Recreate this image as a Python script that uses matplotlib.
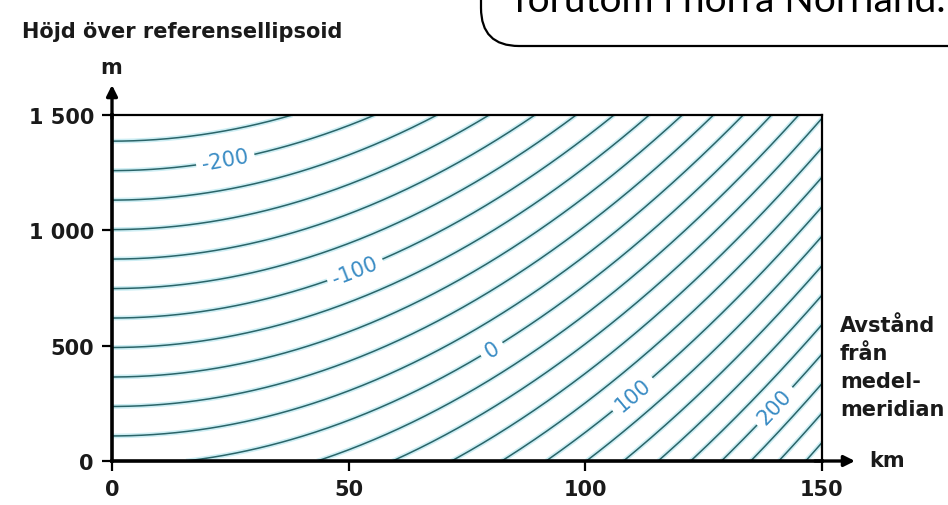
import matplotlib
matplotlib.use("Agg")
import matplotlib.pyplot as plt
import matplotlib.patheffects as pe
from matplotlib.patches import FancyBboxPatch
import numpy as np

plt.rcParams['font.family'] = ['DejaVu Sans']

# distance from central meridian (km) and height above the ellipsoid (m)
x_range = [0, 150]
h_range = [0, 1500]
x_ticks = [0, 50, 100, 150]
h_ticks = [0, 500, 1000, 1500]
h_ticklabels = ['0', '500', '1 000', '1 500']

# scale distortion in mm/km: x^2/(2R^2) - h/R + offset
earth_radius_km = 6390.
offset_ppm = -3.

levels = np.arange(-220, 281, 20)
label_levels = [-200, -100, 0, 100, 200]
label_pos = [(23.6, 1343), (50.6, 865), (79.5, 509), (109, 313), (139, 257)]

xs = np.linspace(x_range[0], x_range[1], 500)
hs = np.linspace(h_range[0], h_range[1], 500)
X, H = np.meshgrid(xs, hs)
dist = (X**2 / (2 * earth_radius_km**2) - (H / 1000.) / earth_radius_km) * 1e6 + offset_ppm

W, Hpx = 948, 506
fig = plt.figure(figsize=(W / 100, Hpx / 100), dpi=100)
ax = fig.add_axes([112 / W, (Hpx - 462) / Hpx, 710 / W, 346 / Hpx])

line_col = '#2a6468'
halo = [pe.Stroke(linewidth=3.4, foreground='#cdeef4'), pe.Normal()]
plain_levels = [lv for lv in levels if lv not in label_levels]
cs1 = ax.contour(X, H, dist, levels=plain_levels, colors=line_col, linewidths=1.1,
                 linestyles='solid', negative_linestyles='solid')
cs1.set(path_effects=halo)
cs2 = ax.contour(X, H, dist, levels=label_levels, colors=line_col, linewidths=1.1,
                 linestyles='solid', negative_linestyles='solid')
cs2.set(path_effects=halo)
ax.clabel(cs2, manual=label_pos, inline=True, inline_spacing=6,
          fmt={lv: str(lv) for lv in label_levels}, fontsize=15, colors='#3a8cc4')

ax.set_xlim(x_range)
ax.set_ylim(h_range)
for side in ['left', 'bottom']:
    ax.spines[side].set_linewidth(2.6)
for side in ['top', 'right']:
    ax.spines[side].set_linewidth(1.6)
ax.set_xticks(x_ticks)
ax.set_yticks(h_ticks)
ax.set_yticklabels(h_ticklabels)
ax.tick_params(axis='both', direction='out', length=7, width=1.6, labelsize=15, pad=6)
for lab in ax.get_xticklabels() + ax.get_yticklabels():
    lab.set_fontweight('bold')
    lab.set_color('#1a1a1a')

# axis arrows
ax.annotate('', xy=(0, 1 + 30 / 346), xytext=(0, 0.99), xycoords='axes fraction',
            arrowprops=dict(arrowstyle='-|>', lw=2.4, color='black', mutation_scale=16,
                            shrinkA=0, shrinkB=0))
ax.annotate('', xy=(1 + 33 / 710, 0), xytext=(0.99, 0), xycoords='axes fraction',
            arrowprops=dict(arrowstyle='-|>', lw=2.4, color='black', mutation_scale=16,
                            shrinkA=0, shrinkB=0))

txt = dict(fontsize=15, fontweight='bold', color='#1a1a1a')
fig.text(22 / W, 1 - 32 / Hpx, 'Höjd över referensellipsoid', va='center', ha='left', **txt)
fig.text(111 / W, 1 - 68 / Hpx, 'm', va='center', ha='center', **txt)
fig.text(869 / W, 1 - 461 / Hpx, 'km', va='center', ha='left', **txt)
fig.text(840 / W, 1 - 316 / Hpx, 'Avstånd\nfrån\nmedel-\nmeridian',
         va='top', ha='left', linespacing=1.5, **txt)

# callout box cut off at the top of the picture
box = FancyBboxPatch((4.81, (Hpx - 47) / 100), 6.0, 2.0,
                     boxstyle='round,pad=0,rounding_size=0.38',
                     transform=fig.dpi_scale_trans, fc='white', ec='black', lw=1.6)
fig.patches.append(box)
fig.text(514 / W, 1 - 12 / Hpx, 'förutom i norra Norrland.', fontsize=28,
         family='Lato', va='baseline', ha='left')

fig.savefig('out.png', dpi=100)
